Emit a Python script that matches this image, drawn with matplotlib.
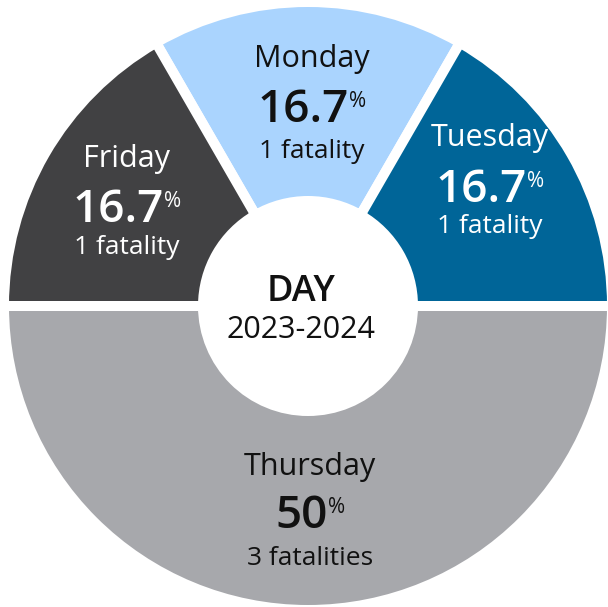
import matplotlib.pyplot as plt

plt.rcParams['font.family'] = ['Open Sans', 'DejaVu Sans']

# data
days = ["Monday", "Tuesday", "Thursday", "Friday"]
fatalities = [1, 1, 3, 1]
pct_labels = ["16.7", "16.7", "50", "16.7"]
sub_labels = ["1 fatality", "1 fatality", "3 fatalities", "1 fatality"]
colors = ["#aad4fe", "#006598", "#a7a8ac", "#414143"]
text_colors = ["#111111", "white", "#111111", "white"]

# label anchors in pixels from top: x center, name / number / sub baselines
label_pos = {
    "Monday": (312, 67, 122, 158),
    "Tuesday": (490, 146, 202, 233),
    "Thursday": (310, 475, 528, 565),
    "Friday": (127, 167, 222, 254),
}

W, H = 608, 607
fig = plt.figure(figsize=(W / 100, H / 100), dpi=100)
ax = fig.add_axes([0, 0, 1, 1])

ax.pie(fatalities, colors=colors, startangle=120, counterclock=False,
       center=(308, H - 306), radius=304,
       wedgeprops=dict(width=199, edgecolor="white", linewidth=7.2))
ax.set_xlim(0, W)
ax.set_ylim(0, H)
ax.set_aspect("equal")
ax.axis("off")

renderer = fig.canvas.get_renderer()

for i, day in enumerate(days):
    xc, yn, yp, ys = label_pos[day]
    c = text_colors[i]
    ax.text(xc, H - yn, day, ha="center", va="baseline", fontsize=22, color=c)
    ax.text(xc, H - ys, sub_labels[i], ha="center", va="baseline", fontsize=19, color=c)
    num = ax.text(0, H - yp, pct_labels[i], ha="left", va="baseline",
                  fontsize=33, fontweight="semibold", color=c)
    per = ax.text(0, H - yp + 15, "%", ha="left", va="baseline", fontsize=15, color=c)
    wn = num.get_window_extent(renderer).width
    wp = per.get_window_extent(renderer).width
    left = xc - (wn + wp) / 2
    num.set_x(left)
    per.set_x(left + wn)

ax.text(301, H - 301, "DAY", ha="center", va="baseline", fontsize=26,
        fontweight="semibold", color="#111111")
ax.text(301, H - 338, "2023-2024", ha="center", va="baseline", fontsize=22,
        color="#111111")

fig.savefig("out.png", dpi=100)
